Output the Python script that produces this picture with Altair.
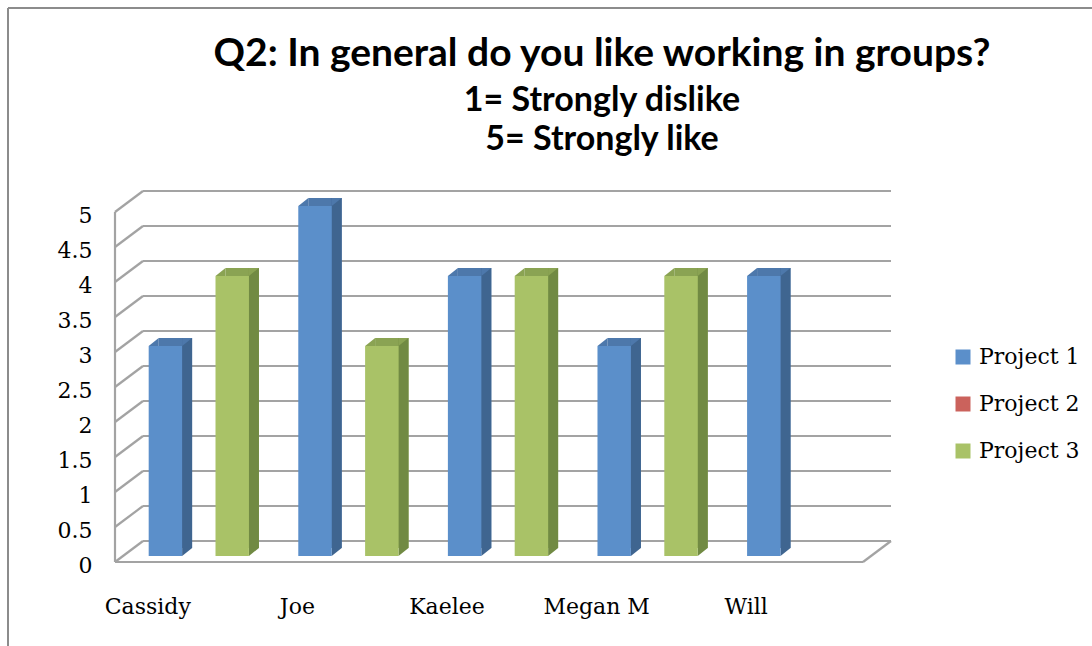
import altair as alt
import pandas as pd

# Survey answers per student and project (blank = no answer)
names = ["Cassidy", "Joe", "Kaelee", "Megan M", "Will"]
projects = ["Project 1", "Project 2", "Project 3"]
project_1 = [3, 5, 4, 3, 4]
project_2 = [None, None, None, None, None]
project_3 = [4, 3, 4, 4, None]
y_ticks = [0, 0.5, 1, 1.5, 2, 2.5, 3, 3.5, 4, 4.5, 5]

front_colors = ["#5B8FCA", "#CB625C", "#A9C267"]
side_colors = ["#3F6590", "#8E3E3B", "#718A43"]
top_colors = ["#4D78AB", "#A64C48", "#8AA353"]
grid_color = "#A3A3A3"
SERIF = "DejaVu Serif"

# Plot geometry (pixels)
W, H = 748, 350
WALL_DX, WALL_DY = 28, -21      # depth of walls / floor
BAR_X, BAR_Y = 9, -6            # where the bars stand inside the floor
BAR_DX, BAR_DY = 10, -8         # thickness of each column
P_IN, P_OUT = 0.33, 0.165
step = W / (len(names) - P_IN + 2 * P_OUT)
SLOT = step * (1 - P_IN) / len(projects)

rows = []
for i, (p, vals) in enumerate(zip(projects, [project_1, project_2, project_3])):
    for n, v in zip(names, vals):
        if v is not None:
            rows.append({"name": n, "project": p, "value": v})
df = pd.DataFrame(rows)
ticks_df = pd.DataFrame({"v": y_ticks})

y_scale = alt.Scale(domain=[0, 5], nice=False, zero=True)
x_scale = alt.Scale(domain=names, paddingInner=P_IN, paddingOuter=P_OUT, round=False)
x_axis = alt.Axis(title=None, domain=False, ticks=False, grid=False, labelAngle=0,
                  labelFont=SERIF, labelFontSize=22, labelColor="black",
                  labelOffset=-42, labelPadding=51, labelBaseline="alphabetic")
y_axis = alt.Axis(title=None, domain=False, ticks=False, grid=False, values=y_ticks,
                  format="~g", labelFont=SERIF, labelFontSize=22, labelColor="black",
                  labelPadding=23, labelOffset=3, labelOverlap=False)
x_enc = alt.X("name:N", sort=names, scale=x_scale, axis=x_axis)
y_enc = alt.Y("value:Q", scale=y_scale, axis=y_axis)

rule_style = dict(color=grid_color, strokeWidth=2.2)

# Back wall gridlines
back_grid = alt.Chart(ticks_df).mark_rule(yOffset=WALL_DY, y2Offset=WALL_DY, **rule_style).encode(
    y=alt.Y("v:Q", scale=y_scale, axis=y_axis),
    x=alt.value(WALL_DX), x2=alt.value(W + WALL_DX),
)
# Side wall slants
side_grid = alt.Chart(ticks_df).mark_rule(y2Offset=WALL_DY, **rule_style).encode(
    y=alt.Y("v:Q", scale=y_scale, axis=y_axis), y2="v:Q",
    x=alt.value(0), x2=alt.value(WALL_DX),
)
# Front vertical edge of the side wall
front_edge = alt.Chart(ticks_df).mark_rule(**rule_style).encode(
    y=alt.Y("v:Q", scale=y_scale, axis=y_axis, aggregate="min"),
    y2=alt.Y2("v:Q", aggregate="max"),
    x=alt.value(0),
)
# Floor: front edge and right slant
floor_df = pd.DataFrame({"v": [0]})
floor_front = alt.Chart(floor_df).mark_rule(**rule_style).encode(
    y=alt.Y("v:Q", scale=y_scale, axis=y_axis), x=alt.value(0), x2=alt.value(W),
)
floor_right = alt.Chart(floor_df).mark_rule(y2Offset=WALL_DY, **rule_style).encode(
    y=alt.Y("v:Q", scale=y_scale, axis=y_axis), y2="v:Q",
    x=alt.value(W), x2=alt.value(W + WALL_DX),
)
# Chart border
border_top = alt.Chart(floor_df).mark_rule(color="#8C8C8C", strokeWidth=2).encode(
    x=alt.value(-107), x2=alt.value(1092 - 115), y=alt.value(-204),
)
border_left = alt.Chart(floor_df).mark_rule(color="#8C8C8C", strokeWidth=2).encode(
    x=alt.value(-107), y=alt.value(-204), y2=alt.value(646 - 212),
)

TRI_A = "M-1,0.8L-1,-0.8L1,-0.8Z"   # right-angle at top-left
TRI_B = "M-1,0.8L1,0.8L1,-0.8Z"     # right-angle at bottom-right

color_scale = alt.Scale(domain=projects, range=front_colors)
legend = alt.Legend(title=None, orient="none", legendX=837, legendY=134, padding=0,
                    symbolType="square", symbolSize=225, symbolStrokeWidth=0,
                    labelFont=SERIF, labelFontSize=22, labelColor="black",
                    labelOffset=5, rowPadding=25)

layers = [back_grid, side_grid, front_edge, floor_front, floor_right, border_top, border_left]

for i, p in enumerate(projects):
    sub = df[df["project"] == p].assign(base=0)
    if sub.empty:
        continue
    base = alt.Chart(sub)
    c = (i - 1) * SLOT
    side_x = c + SLOT / 2 + BAR_DX / 2 + BAR_X
    left_x = c - SLOT / 2 + BAR_DX / 2 + BAR_X
    tri_y = BAR_Y + BAR_DY / 2
    back_y = BAR_Y + BAR_DY
    tri = dict(size=BAR_DX ** 2, filled=True, opacity=1, strokeWidth=0)
    base_enc = alt.Y("base:Q", scale=y_scale, axis=y_axis)
    layers += [
        # top face body (back copy of the column)
        base.mark_bar(width=SLOT, xOffset=c + BAR_X + BAR_DX, yOffset=back_y, y2Offset=back_y,
                      color=top_colors[i]).encode(x=x_enc, y=y_enc, y2="base:Q"),
        # side face
        base.mark_bar(width=BAR_DX, xOffset=side_x, yOffset=back_y, y2Offset=back_y,
                      color=side_colors[i]).encode(x=x_enc, y=y_enc, y2="base:Q"),
        base.mark_point(shape=TRI_A, color=side_colors[i], xOffset=side_x, yOffset=tri_y, **tri).encode(
            x=x_enc, y=base_enc),
        base.mark_point(shape=TRI_A, color=top_colors[i], xOffset=side_x, yOffset=tri_y, **tri).encode(
            x=x_enc, y=y_enc),
        # front face
        base.mark_bar(width=SLOT, xOffset=c + BAR_X, yOffset=BAR_Y, y2Offset=BAR_Y).encode(
            x=x_enc, y=y_enc, y2="base:Q",
            color=alt.Color("project:N", scale=color_scale, legend=legend)),
        base.mark_point(shape=TRI_B, color=top_colors[i], xOffset=left_x, yOffset=tri_y, **tri).encode(
            x=x_enc, y=y_enc),
    ]

# The border rules extend the view bounds up to the canvas top, so the
# title offset is measured from there (negative pulls it back down).
chart = alt.layer(*layers).properties(
    width=W, height=H,
    background="white",
    padding={"left": 115, "top": 212, "right": 229, "bottom": 84},
    autosize=alt.AutoSizeParams(type="none"),
    title=alt.TitleParams(
        text="Q2: In general do you like working in groups?",
        subtitle=["1= Strongly dislike", "5= Strongly like"],
        font="Lato", fontWeight="bold", fontSize=39, color="black",
        subtitleFont="Lato", subtitleFontWeight="bold", subtitleFontSize=34,
        subtitleColor="black", subtitleLineHeight=39, subtitlePadding=10,
        anchor="middle", dx=113, offset=-150,
    ),
).configure_view(strokeWidth=0).configure_axisY(labelOverlap=False)

chart.save("out.html", embed_options={"renderer": "svg", "actions": False})
